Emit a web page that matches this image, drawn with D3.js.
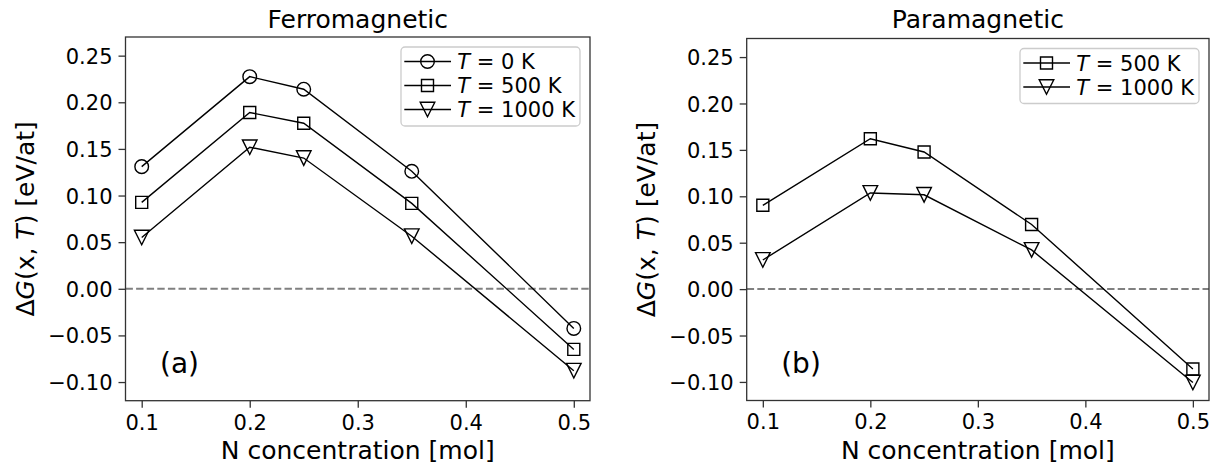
<!DOCTYPE html>
<html>
<head>
<meta charset="utf-8">
<script src="https://cdn.jsdelivr.net/npm/d3@7"></script>
<style>
  html, body { margin: 0; padding: 0; background: #fff; }
  svg text { font-family: "DejaVu Sans", sans-serif; fill: #000; }
</style>
</head>
<body>
<svg id="chart" width="1227" height="468"></svg>
<script>
// ---- data ----
const concentrations = [0.1, 0.2, 0.25, 0.35, 0.5];
const ferroT0    = [0.131, 0.2275, 0.214, 0.126, -0.0425];
const ferroT500  = [0.0927, 0.189, 0.1775, 0.0916, -0.065];
const ferroT1000 = [0.055, 0.1518, 0.1402, 0.0564, -0.0878];
const paraT500   = [0.0903, 0.162, 0.1477, 0.0696, -0.086];
const paraT1000  = [0.0314, 0.1036, 0.1016, 0.0422, -0.1006];
const xTicks = [0.1, 0.2, 0.3, 0.4, 0.5];
const yTicks = [-0.10, -0.05, 0.00, 0.05, 0.10, 0.15, 0.20, 0.25];
const panelTitles = ["Ferromagnetic", "Paramagnetic"];
const panelTags = ["(a)", "(b)"];
const tempLabels = {T0: "0 K", T500: "500 K", T1000: "1000 K"};

const svg = d3.select("#chart");
const fmtY = v => (v < 0 ? "\u2212" : "") + Math.abs(v).toFixed(2);
const fmtX = v => v.toFixed(1);

function markerPath(kind) {
  if (kind === "circle") return d3.symbol(d3.symbolCircle, Math.PI * 6.8 * 6.8)();
  if (kind === "square") return "M-6,-6H6V6H-6Z";
  return "M0,7.3L-7.3,-7.3L7.3,-7.3Z";
}

function drawPanel(p) {
  const g = svg.append("g");
  const x = d3.scaleLinear().domain([0.085, 0.515]).range([p.left, p.right]);
  const y = d3.scaleLinear().domain([-0.12, 0.27]).range([p.bottom, p.top]);

  // zero dashed line
  g.append("line")
    .attr("x1", p.left).attr("x2", p.right)
    .attr("y1", y(0)).attr("y2", y(0))
    .attr("stroke", "#808080").attr("stroke-width", 2)
    .attr("stroke-dasharray", "7.4,3.2");

  // series
  const line = d3.line().x((d, i) => x(concentrations[i])).y(d => y(d));
  p.series.forEach(s => {
    g.append("path").datum(s.values)
      .attr("d", line).attr("fill", "none")
      .attr("stroke", "#000").attr("stroke-width", 1.4);
    g.selectAll(null).data(s.values).enter().append("path")
      .attr("d", markerPath(s.marker))
      .attr("transform", (d, i) => `translate(${x(concentrations[i])},${y(d)})`)
      .attr("fill", "none").attr("stroke", "#000").attr("stroke-width", 1.4);
  });

  // axes
  const ya = g.append("g").attr("transform", `translate(${p.left},0)`)
    .call(d3.axisLeft(y).tickValues(yTicks).tickFormat(fmtY).tickSize(7).tickPadding(6));
  const xa = g.append("g").attr("transform", `translate(0,${p.bottom})`)
    .call(d3.axisBottom(x).tickValues(xTicks).tickFormat(fmtX).tickSize(7).tickPadding(6));
  [ya, xa].forEach(a => {
    a.select(".domain").remove();
    a.selectAll(".tick line").attr("stroke", "#333").attr("stroke-width", 1.3);
    a.selectAll(".tick text").style("font-size", "21px").attr("fill", "#000");
  });
  ya.selectAll(".tick text").attr("dy", "0.36em");
  xa.selectAll(".tick text").attr("dy", "0.76em");

  // frame
  g.append("rect")
    .attr("x", p.left).attr("y", p.top)
    .attr("width", p.right - p.left).attr("height", p.bottom - p.top)
    .attr("fill", "none").attr("stroke", "#333").attr("stroke-width", 1.3);

  // title
  g.append("text").attr("x", (p.left + p.right) / 2).attr("y", 27.5)
    .attr("text-anchor", "middle").style("font-size", "25px").text(p.title);

  // x label
  g.append("text").attr("x", (p.left + p.right) / 2).attr("y", 459)
    .attr("text-anchor", "middle").style("font-size", "25px").text("N concentration [mol]");

  // y label
  const yl = g.append("text")
    .attr("transform", `translate(${p.left - 92},${(p.top + p.bottom) / 2}) rotate(-90)`)
    .attr("text-anchor", "middle").style("font-size", "25px");
  yl.append("tspan").text("\u0394");
  yl.append("tspan").style("font-style", "italic").text("G");
  yl.append("tspan").text("(x, ");
  yl.append("tspan").style("font-style", "italic").text("T");
  yl.append("tspan").text(") [eV/at]");

  // panel tag
  g.append("text").attr("x", p.left + 34.5).attr("y", 373)
    .style("font-size", "28px").text(p.tag);

  // legend
  const n = p.series.length;
  const lw = 179, lh = 29 + (n - 1) * 24 + 2;
  const lx = p.right - 10 - lw, ly = p.top + 10;
  const lg = g.append("g").attr("transform", `translate(${lx},${ly})`);
  lg.append("rect").attr("width", lw).attr("height", lh).attr("rx", 4)
    .attr("fill", "#fff").attr("fill-opacity", 0.8)
    .attr("stroke", "#cccccc").attr("stroke-width", 1.3);
  p.series.forEach((s, i) => {
    const cy = 14.5 + i * 24;
    lg.append("line").attr("x1", 3.3).attr("x2", 50).attr("y1", cy).attr("y2", cy)
      .attr("stroke", "#000").attr("stroke-width", 1.4);
    lg.append("path").attr("d", markerPath(s.marker))
      .attr("transform", `translate(26.5,${cy})`)
      .attr("fill", "none").attr("stroke", "#000").attr("stroke-width", 1.4);
    const t = lg.append("text").attr("x", 56.3).attr("y", cy).attr("dy", "0.36em")
      .style("font-size", "21px");
    t.append("tspan").style("font-style", "italic").text("T");
    t.append("tspan").text(" = " + s.label);
  });
}

drawPanel({
  left: 125.5, right: 590, top: 37, bottom: 400.7,
  title: panelTitles[0], tag: panelTags[0],
  series: [
    {values: ferroT0, marker: "circle", label: tempLabels.T0},
    {values: ferroT500, marker: "square", label: tempLabels.T500},
    {values: ferroT1000, marker: "triangle", label: tempLabels.T1000}
  ]
});
drawPanel({
  left: 746.7, right: 1209, top: 38.5, bottom: 400.5,
  title: panelTitles[1], tag: panelTags[1],
  series: [
    {values: paraT500, marker: "square", label: tempLabels.T500},
    {values: paraT1000, marker: "triangle", label: tempLabels.T1000}
  ]
});
</script>
</body>
</html>
